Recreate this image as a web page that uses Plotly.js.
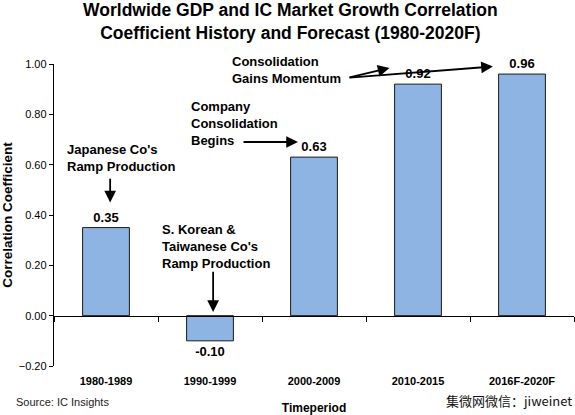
<!DOCTYPE html>
<html>
<head>
<meta charset="utf-8">
<script src="https://cdn.plot.ly/plotly-3.0.1.min.js"></script>
<style>html,body{margin:0;padding:0;background:#fff;}#chart{width:575px;height:415px;}</style>
</head>
<body>
<div id="chart"></div>
<script>
var periods = ["1980-1989", "1990-1999", "2000-2009", "2010-2015", "2016F-2020F"];
var correlation = [0.35, -0.10, 0.63, 0.92, 0.96];
var yTickVals = [-0.2, 0, 0.2, 0.4, 0.6, 0.8, 1.0];

var bold = "'Liberation Sans', Arial, sans-serif";

var trace = {
  type: "bar",
  x: periods,
  y: correlation,
  width: 0.45,
  marker: {color: "#8DB4E2", line: {color: "#1a1a1a", width: 1}},
  texttemplate: "<b>%{y:.2f}</b>",
  textposition: "outside",
  textfont: {family: bold, size: 13, color: "#000"},
  cliponaxis: false,
  hoverinfo: "skip"
};

function arrow(xh, yh, xt, yt) {
  return {x: xh, y: yh, ax: xt, ay: yt, xref: "x", yref: "y", axref: "x", ayref: "y",
    text: "", showarrow: true, arrowhead: 2, arrowsize: 1.3, arrowwidth: 1.8, arrowcolor: "#000"};
}
function label(txt, x, y) {
  return {text: "<b>" + txt + "</b>", x: x, y: y, xref: "x", yref: "y", xanchor: "left", yanchor: "middle",
    align: "left", showarrow: false, font: {family: bold, size: 13, color: "#000"}};
}

var layout = {
  width: 575, height: 415,
  margin: {l: 54, r: 1, t: 64, b: 49},
  paper_bgcolor: "#fff", plot_bgcolor: "#fff",
  showlegend: false,
  font: {family: bold, color: "#000"},
  title: {
    text: "<b>Worldwide GDP and IC Market Growth Correlation<br>Coefficient History and Forecast (1980-2020F)</b>",
    font: {family: bold, size: 17.5, color: "#000"},
    x: 0.505, xanchor: "center", yref: "container", y: 0.962, yanchor: "top"
  },
  xaxis: {
    type: "category",
    range: [-0.5, 4.5],
    anchor: "free", position: 0.2 / 1.2,
    showline: true, linecolor: "#000", linewidth: 1.2,
    ticks: "outside", tickson: "boundaries", ticklen: 5, tickcolor: "#000",
    ticklabelstandoff: 55,
    tickfont: {family: bold, size: 11, color: "#000"},
    tickprefix: "<b>", ticksuffix: "</b>",
    showgrid: false, zeroline: false,
    title: {text: "<b>Timeperiod</b>", font: {family: bold, size: 12, color: "#000"}, standoff: 18}
  },
  yaxis: {
    range: [-0.2, 1.0],
    tickvals: yTickVals,
    tickformat: ".2f",
    tickprefix: "<b>", ticksuffix: "</b>",
    showline: true, linecolor: "#000", linewidth: 1.2,
    ticks: "outside", ticklen: 4, tickcolor: "#000",
    tickfont: {family: bold, size: 11, color: "#000"},
    showgrid: false, zeroline: false,
    title: {text: "<b>Correlation Coefficient</b>", font: {family: bold, size: 13.5, color: "#000"}, standoff: 5}
  },
  annotations: [
    label("Japanese Co's<br>Ramp Production", -0.394, 0.627),
    arrow(0.04, 0.45, 0.04, 0.55),
    label("S. Korean &<br>Taiwanese Co's<br>Ramp Production", 0.519, 0.274),
    arrow(1.03, 0.015, 1.03, 0.18),
    label("Company<br>Consolidation<br>Begins", 0.798, 0.762),
    arrow(1.846, 0.69, 1.308, 0.69),
    label("Consolidation<br>Gains Momentum", 1.192, 0.976),
    arrow(2.726, 0.984, 2.327, 0.945),
    arrow(3.72, 0.99, 2.327, 0.945),
    {text: "Source: IC Insights", xref: "paper", yref: "paper", x: -0.077, y: -0.12, xanchor: "left", yanchor: "middle",
      showarrow: false, font: {family: "'Liberation Sans', Arial, sans-serif", size: 11, color: "#222"}},
    {text: "集微网微信：jiweinet", xref: "paper", yref: "paper", x: 1.0, y: -0.115, xanchor: "right", yanchor: "middle",
      showarrow: false, font: {family: "'Noto Sans CJK SC', sans-serif", size: 13, color: "#111"}}
  ]
};

Plotly.newPlot("chart", [trace], layout, {displayModeBar: false, staticPlot: true});
</script>
</body>
</html>
